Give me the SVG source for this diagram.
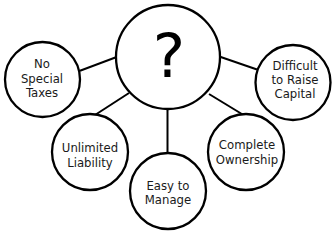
<svg xmlns="http://www.w3.org/2000/svg" width="335" height="232" viewBox="0 0 335 232">
<style>
.n{fill:#fff;stroke:#000;stroke-width:2.3}
.c{stroke:#000;stroke-width:2;fill:none}
.t{font-family:"DejaVu Sans","Verdana",sans-serif;font-size:11.7px;fill:#1a1a1a;text-anchor:middle}
.q{font-family:"DejaVu Sans","Verdana",sans-serif;font-size:61px;fill:#000;text-anchor:middle}
</style>
<rect width="335" height="232" fill="#fff"/>
<g id="connectors">
<line class="c" x1="80" y1="70.7" x2="116" y2="57.3"/>
<line class="c" x1="95" y1="115" x2="129" y2="93"/>
<line class="c" x1="167.5" y1="108" x2="167.5" y2="154"/>
<line class="c" x1="209" y1="94" x2="243.5" y2="115"/>
<line class="c" x1="220" y1="56.7" x2="257" y2="69.5"/>
</g>
<g id="center">
<circle class="n" cx="168" cy="57" r="52"/>
<text class="q" x="169" y="77">?</text>
</g>
<g id="no-special-taxes">
<circle class="n" cx="42.5" cy="79.5" r="37.5"/>
<text class="t" x="42" y="68">No</text>
<text class="t" x="42" y="82.5">Special</text>
<text class="t" x="42" y="97">Taxes</text>
</g>
<g id="difficult">
<circle class="n" cx="293" cy="82.5" r="37.5"/>
<text class="t" x="295" y="70">Difficult</text>
<text class="t" x="295" y="84">to Raise</text>
<text class="t" x="295" y="98.3">Capital</text>
</g>
<g id="unlimited-liability">
<circle class="n" cx="90" cy="152" r="38"/>
<text class="t" x="90" y="152.3">Unlimited</text>
<text class="t" x="90" y="166.7">Liability</text>
</g>
<g id="easy-to-manage">
<circle class="n" cx="168" cy="191" r="38"/>
<text class="t" x="168" y="190">Easy to</text>
<text class="t" x="168" y="204">Manage</text>
</g>
<g id="complete-ownership">
<circle class="n" cx="246" cy="152" r="38"/>
<text class="t" x="247" y="149.3">Complete</text>
<text class="t" x="247" y="164">Ownership</text>
</g>
</svg>
